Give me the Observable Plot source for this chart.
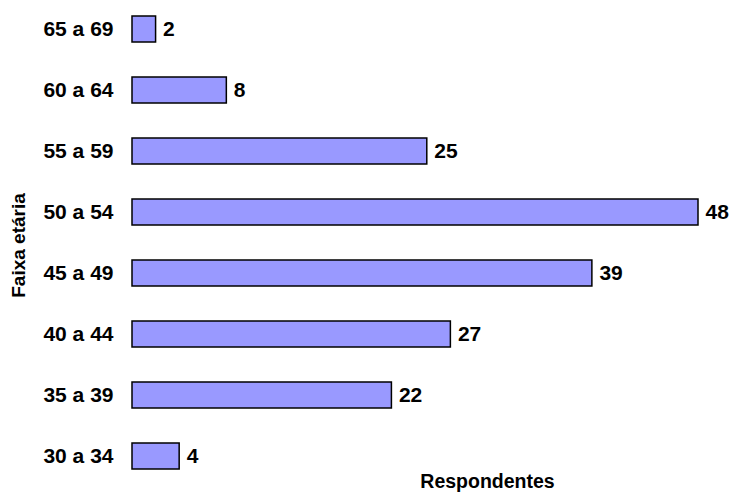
<!DOCTYPE html>
<html>
<head>
<meta charset="utf-8">
<script src="https://cdn.jsdelivr.net/npm/d3@7"></script>
<script src="https://cdn.jsdelivr.net/npm/@observablehq/plot@0.6"></script>
<style>
  body { margin: 0; background: #fff; }
  svg { font-family: "Liberation Sans", Arial, sans-serif; }
</style>
</head>
<body>
<div id="chart"></div>
<script>
const ageGroups = ["65 a 69", "60 a 64", "55 a 59", "50 a 54", "45 a 49", "40 a 44", "35 a 39", "30 a 34"];
const respondents = [2, 8, 25, 48, 39, 27, 22, 4];
const yLabel = "Faixa etária";
const xLabel = "Respondentes";

const data = ageGroups.map((g, i) => ({age: g, value: respondents[i]}));

const chart = Plot.plot({
  width: 731,
  height: 493,
  marginLeft: 132,
  marginRight: 33,
  marginTop: 10,
  marginBottom: 17,
  style: {fontFamily: "'Liberation Sans', Arial, sans-serif", background: "#fff"},
  x: {domain: [0, 48], axis: null},
  y: {domain: ageGroups, padding: 0.57, paddingOuter: 0.1, label: null},
  marks: [
    Plot.axisY({tickSize: 0, tickPadding: 19, fontSize: 21, fontWeight: "bold", fill: "#000", label: null}),
    Plot.barX(data, {x: "value", y: "age", fill: "#9999ff", stroke: "#000", strokeWidth: 1.5}),
    Plot.text(data, {x: "value", y: "age", text: "value", dx: 7, textAnchor: "start", fontSize: 21, fontWeight: "bold", fill: "#000"}),
    Plot.text([yLabel], {text: d => d, frameAnchor: "left", textAnchor: "middle", lineAnchor: "middle", rotate: -90, dx: -114, dy: 2, fontSize: 19, fontWeight: "bold", fill: "#000"}),
    Plot.text([xLabel], {text: d => d, frameAnchor: "bottom", textAnchor: "middle", lineAnchor: "middle", dx: 72, dy: 5, fontSize: 19.5, fontWeight: "bold", fill: "#000"})
  ]
});
document.getElementById("chart").appendChild(chart);
</script>
</body>
</html>
